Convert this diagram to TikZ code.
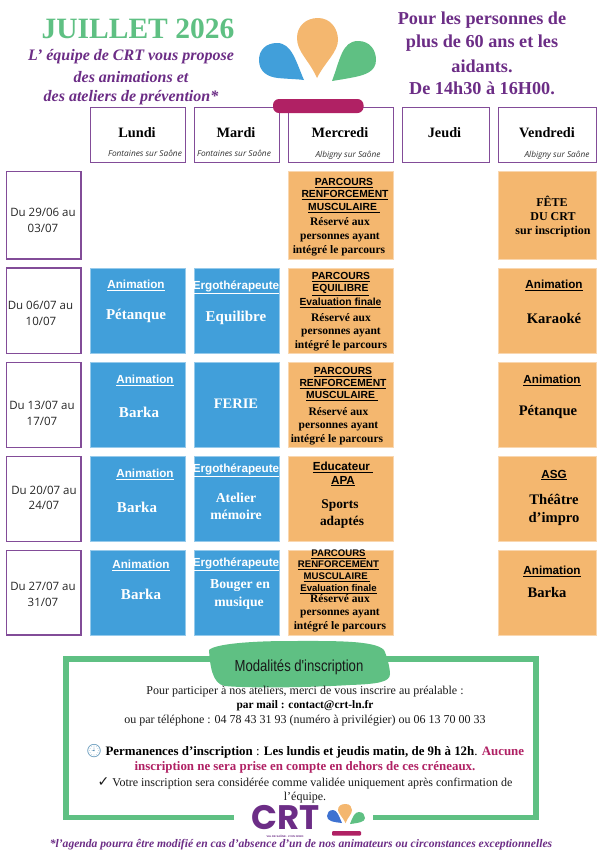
\documentclass[tikz,border=0pt]{standalone}
\usepackage{fontspec}
\setmainfont{Liberation Serif}
\setsansfont{Liberation Sans}
\newfontfamily\opensans{Open Sans}
\newfontfamily\narrowsans[FakeStretch=0.82]{Liberation Sans}
\newfontfamily\logofont{Poppins}
\newfontfamily\emojifont{Noto Emoji}
\newfontfamily\dejavu{DejaVu Sans}
\definecolor{crtblue}{HTML}{419FDA}
\definecolor{crtorange}{HTML}{F4B76F}
\definecolor{crtgreen}{HTML}{5FC083}
\definecolor{crtpurple}{HTML}{6C2D86}
\definecolor{crtmag}{HTML}{B02164}
\newcommand{\fs}[1]{\fontsize{#1}{#1}\selectfont}
\newcommand{\ul}[1]{\underline{#1}}
\tikzset{
 txt/.style={inner sep=0pt,align=center,anchor=center},
 daybox/.style={draw=crtpurple!85,line width=1pt},
 datebox/.style={draw=crtpurple!85,line width=1.2pt},
 bluecell/.style={fill=crtblue,draw=crtblue!55,line width=.6pt},
 orangecell/.style={fill=crtorange,draw=crtorange!55,line width=.6pt},
 head/.style={txt,font=\fs{18.2}\bfseries,text=crtpurple},
 intro/.style={txt,font=\fs{16}\bfseries\itshape,text=crtpurple},
 dayname/.style={txt,font=\fs{14.3}\bfseries},
 place/.style={txt,font=\opensans\fs{8.3}\itshape,text=black!80},
 datetxt/.style={txt,font=\opensans\fs{11.5},text=black!85},
 wu/.style={txt,font=\sffamily\fs{11.7}\bfseries,text=white},
 wt/.style={txt,font=\fs{15}\bfseries,text=white},
 wts/.style={txt,font=\fs{13.7}\bfseries,text=white},
 bu/.style={txt,font=\sffamily\fs{11.7}\bfseries,text=black},
 bt/.style={txt,font=\fs{14.6}\bfseries,text=black},
 bts/.style={txt,font=\fs{13.4}\bfseries,text=black},
 bs/.style={txt,font=\fs{11.5}\bfseries,text=black},
 fete/.style={txt,font=\fs{12}\bfseries,text=black},
 ps/.style={txt,font=\sffamily\fs{10.3}\bfseries,text=black},
 body/.style={txt,font=\fs{12},text=black!90},
 bodyb/.style={txt,font=\fs{12.9}\bfseries,text=black},
}
\begin{document}
\begin{tikzpicture}[x=1pt,y=-1pt]
\useasboundingbox (0,0) rectangle (612,868);
\fill[white] (0,0) rectangle (612,868);
% title
\node[txt,font=\fs{29.5}\bfseries,text=crtgreen] (title) at (138,29) {JUILLET 2026};
\node[intro] (i1) at (131,57) {L' équipe de CRT vous propose};
\node[intro] (i2) at (131,77) {des animations et};
\node[intro] (i3) at (131,98) {des ateliers de prévention*};
\node[head] (r1) at (482,20) {Pour les personnes de};
\node[head] (r2) at (482,43) {plus de 60 ans et les};
\node[head] (r3) at (482,66) {aidants.};
\node[head] (r4) at (482,88) {De 14h30 à 16H00.};
% logo
\fill[crtorange] (317,78) .. controls (309,60) and (297,52) .. (297,38) .. controls (297,26) and (306,18) .. (318,18) .. controls (330,18) and (338,28) .. (338,40) .. controls (338,52) and (325,62) .. (317,78) -- cycle;
\fill[crtblue] (304,80) .. controls (296,62) and (292,43) .. (277,43) .. controls (266,43) and (259,50) .. (259,60) .. controls (259,72) and (268,77) .. (278,78) .. controls (288,79) and (296,79) .. (304,80) -- cycle;
\fill[crtgreen] (332,81) .. controls (340,60) and (342,41) .. (358,41) .. controls (370,41) and (376,50) .. (376,60) .. controls (376,72) and (364,75) .. (355,77) .. controls (345,79) and (338,80) .. (332,81) -- cycle;
% header boxes
\draw[daybox] (90,107) rectangle (185,162);
\draw[daybox] (194,107) rectangle (279.5,162);
\draw[daybox] (288,107) rectangle (393,162);
\draw[daybox] (402,107) rectangle (489.5,162);
\draw[daybox] (498.5,107) rectangle (596,162);
\fill[crtmag,rounded corners=6pt] (273,99) rectangle (363.5,113);
\node[dayname] (d1) at (137,133) {Lundi};
\node[dayname] (d2) at (236,133) {Mardi};
\node[dayname] (d3) at (340,133) {Mercredi};
\node[dayname] (d4) at (444.5,133) {Jeudi};
\node[dayname] (d5) at (547,133) {Vendredi};
\node[place] (p1) at (145,153) {Fontaines sur Saône};
\node[place] (p2) at (234,153) {Fontaines sur Saône};
\node[place] (p3) at (348,155) {Albigny sur Saône};
\node[place] (p5) at (557,155) {Albigny sur Saône};
% date boxes
\draw[datebox] (6.5,171.5) rectangle (81,259);
\draw[datebox] (6.5,268) rectangle (81,353.5);
\draw[datebox] (6.5,362.5) rectangle (81,447.5);
\draw[datebox] (6.5,456.5) rectangle (81,541.5);
\draw[datebox] (6.5,550.5) rectangle (81,635);
% cells
\foreach \t/\b in {268/353.5,362.5/447.5,456.5/541.5,550.5/635}{
 \draw[bluecell] (90,\t) rectangle (185,\b);
 \draw[bluecell] (194,\t) rectangle (279.5,\b);
}
\foreach \t/\b in {171/259,268/353.5,362.5/447.5,456.5/541.5,550.5/635}{
 \draw[orangecell] (288,\t) rectangle (393,\b);
 \draw[orangecell] (498.5,\t) rectangle (596,\b);
}
% row 1
\node[datetxt] (a1) at (43,212) {Du 29/06 au};
\node[datetxt] (a2) at (43,228) {03/07};
\node[ps] (a3) at (344,183) {\ul{PARCOURS}};
\node[ps] (a4) at (345,195) {\ul{RENFORCEMENT}};
\node[ps] (a5) at (344,208) {\ul{MUSCULAIRE\ }};
\node[bs] (a6) at (340,222) {Réservé aux};
\node[bs] (a7) at (340,237) {personnes ayant};
\node[bs] (a8) at (339,251) {intégré le parcours};
\node[fete] (a9) at (552,201) {FÊTE};
\node[fete] (a10) at (553,217) {DU CRT};
\node[fete] (a11) at (553,232) {sur inscription};
% row 2
\node[datetxt] (b1) at (40.5,305) {Du 06/07 au};
\node[datetxt] (b2) at (41,321) {10/07};
\node[wu] (b3) at (136,285) {\ul{Animation}};
\node[wt] (b4) at (136,316) {Pétanque};
\node[wu] (b5) at (236,287) {\ul{Ergothérapeute}};
\node[wt] (b6) at (236,318) {Equilibre};
\node[ps] (b7) at (341,277) {\ul{PARCOURS}};
\node[ps] (b8) at (340.5,290) {\ul{EQUILIBRE}};
\node[ps] (b9) at (340.5,303) {\ul{Evaluation finale}};
\node[bs] (b10) at (341,318) {Réservé aux};
\node[bs] (b11) at (341,332) {personnes ayant};
\node[bs] (b12) at (341,346) {intégré le parcours};
\node[bu] (b13) at (554,285) {\ul{Animation}};
\node[bt] (b14) at (554,318) {Karaoké};
% row 3
\node[datetxt] (c1) at (42,405) {Du 13/07 au};
\node[datetxt] (c2) at (42,421) {17/07};
\node[wu] (c3) at (145,380) {\ul{Animation}};
\node[wt] (c4) at (139,412) {Barka};
\node[wt,font=\fs{14.5}\bfseries] (c5) at (236,404) {FERIE};
\node[ps] (c6) at (343,372) {\ul{PARCOURS}};
\node[ps] (c7) at (343,384) {\ul{RENFORCEMENT}};
\node[ps] (c8) at (342,396) {\ul{MUSCULAIRE\ }};
\node[bs] (c9) at (338.5,412) {Réservé aux};
\node[bs] (c10) at (338.5,426) {personnes ayant};
\node[bs] (c11) at (337,440) {intégré le parcours};
\node[bu] (c12) at (552,380) {\ul{Animation}};
\node[bt] (c13) at (548,412) {Pétanque};
% row 4
\node[datetxt] (e1) at (44,490) {Du 20/07 au};
\node[datetxt] (e2) at (44,505) {24/07};
\node[wu] (e3) at (145,474) {\ul{Animation}};
\node[wt] (e4) at (137,507) {Barka};
\node[wu] (e5) at (236,470) {\ul{Ergothérapeute}};
\node[wts] (e6) at (236,498) {Atelier};
\node[wts] (e7) at (236,515) {mémoire};
\node[bu] (e8) at (343,467) {\ul{Educateur\ }};
\node[bu] (e9) at (343,481) {\ul{APA}};
\node[bts] (e10) at (340,505) {Sports};
\node[bts] (e11) at (342,522) {adaptés};
\node[bu] (e12) at (554,475) {\ul{ASG}};
\node[bt] (e13) at (554,499) {Théâtre};
\node[bt] (e14) at (554,519) {d'impro};
% row 5
\node[datetxt] (f1) at (43,586) {Du 27/07 au};
\node[datetxt] (f2) at (43,602) {31/07};
\node[wu] (f3) at (141,565) {\ul{Animation}};
\node[wt] (f4) at (141,594) {Barka};
\node[wu] (f5) at (236,564) {\ul{Ergothérapeute}};
\node[wts] (f6) at (240,586) {Bouger en};
\node[wts] (f7) at (239,603) {musique};
\node[ps,font=\sffamily\fs{9.6}\bfseries] (f8) at (338.5,554) {\ul{PARCOURS}};
\node[ps,font=\sffamily\fs{9.6}\bfseries] (f9) at (338.5,565) {\ul{RENFORCEMENT}};
\node[ps,font=\sffamily\fs{9.6}\bfseries] (f10) at (337,577) {\ul{MUSCULAIRE\ }};
\node[ps,font=\sffamily\fs{9.6}\bfseries] (f11) at (338.5,589) {\ul{Evaluation finale}};
\node[bs] (f12) at (340,599) {Réservé aux};
\node[bs] (f13) at (340,613) {personnes ayant};
\node[bs] (f14) at (340,627) {intégré le parcours};
\node[bu] (f15) at (552,571) {\ul{Animation}};
\node[bt] (f16) at (547,592) {Barka};
% bottom frame
\draw[crtgreen,line width=5.5pt] (234,817.5) -- (66,817.5) -- (66,659) -- (536,659) -- (536,817.5) -- (373,817.5);
\fill[crtgreen] (209,650) .. controls (215,644) and (250,641) .. (290,641) .. controls (330,641) and (375,640) .. (384,650) .. controls (387,656) and (390,668) .. (390,674) .. controls (390,682) and (378,684) .. (350,685) .. controls (300,688) and (245,688) .. (225,686) .. controls (212,684) and (210,665) .. (209,650) -- cycle;
\node[txt,font=\narrowsans\fs{16},text=black!90] (mod) at (299,667) {Modalités d'inscription};
\node[body] (l1) at (305,692) {Pour participer à nos ateliers, merci de vous inscrire au préalable :};
\node[txt,font=\fs{11.4}\bfseries] (l2) at (305,706) {par mail : contact@crt-ln.fr};
\node[body] (l3) at (305,721) {ou par téléphone : 04 78 43 31 93 (numéro à privilégier) ou 06 13 70 00 33};
\node[bodyb] (l4) at (305,751) {{\emojifont\fs{13}\mdseries\textcolor{crtblue!60!gray}{🕘}} Permanences d'inscription {\mdseries:} Les lundis et jeudis matin, de 9h à 12h{\mdseries.} \textcolor{crtmag}{Aucune}};
\node[bodyb,text=crtmag] (l5) at (305,767) {inscription ne sera prise en compte en dehors de ces créneaux.};
\node[body] (l6) at (305,783) {{\dejavu\fs{14}\char"2713} Votre inscription sera considérée comme validée uniquement après confirmation de};
\node[body] (l7) at (305,798) {l'équipe.};
% bottom logo
\node[txt,font=\logofont\fs{34}\bfseries,text=crtpurple] (crt) at (285.5,817.5) {CRT};
\node[txt,font=\sffamily\fs{2.6}\bfseries,text=crtpurple] (val) at (285,836) {VAL DE SAÔNE · LYON NORD};
\fill[crtorange] (345.5,823) .. controls (342,816) and (338,813) .. (338,810) .. controls (338,806) and (341,804) .. (345.5,804) .. controls (350,804) and (352,807) .. (352,810) .. controls (352,814) and (348,817) .. (345.5,823) -- cycle;
\fill[crtblue!70!blue!80!gray] (342,823) .. controls (339,816) and (337,810) .. (333,810) .. controls (329,810) and (327,813) .. (327,816) .. controls (327,821) and (333,822) .. (342,823) -- cycle;
\fill[crtgreen] (350,824) .. controls (353,816) and (355,812) .. (359,812) .. controls (363,812) and (365,815) .. (365,818) .. controls (365,822) and (358,823) .. (350,824) -- cycle;
\fill[crtmag,rounded corners=1pt] (332,831) rectangle (361,835.5);
\node[txt,font=\fs{11.6}\bfseries\itshape,text=crtpurple] (foot) at (301,845) {*l'agenda pourra être modifié en cas d'absence d'un de nos animateurs ou circonstances exceptionnelles};
\end{tikzpicture}
\end{document}
